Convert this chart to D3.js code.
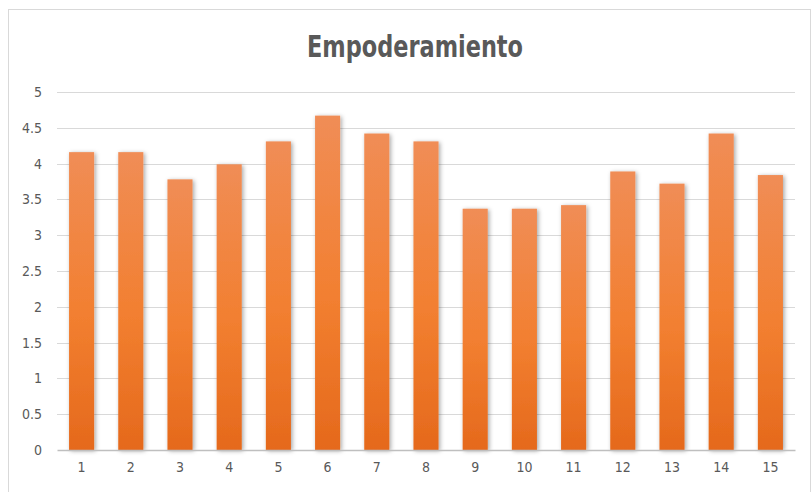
<!DOCTYPE html>
<html>
<head>
<meta charset="utf-8">
<script src="https://cdn.jsdelivr.net/npm/d3@7"></script>
<style>
  body { margin: 0; background: #fff; }
  text { font-family: "DejaVu Sans Condensed", "Liberation Sans Narrow", sans-serif; fill: #595959; }
</style>
</head>
<body>
<div id="graph"></div>
<script>
// Chart data
var categories = ['1','2','3','4','5','6','7','8','9','10','11','12','13','14','15'];
var values = [4.16, 4.16, 3.78, 3.99, 4.31, 4.67, 4.42, 4.31, 3.37, 3.37, 3.42, 3.89, 3.72, 4.42, 3.84];
var yTicks = [0, 0.5, 1, 1.5, 2, 2.5, 3, 3.5, 4, 4.5, 5];
var title = 'Empoderamiento';

// Dimensions
var W = 811, H = 492;
var margin = {top: 92, right: 16, bottom: 42, left: 57},
    width = W - margin.left - margin.right,
    height = H - margin.top - margin.bottom;

var svg = d3.select('#graph')
    .append('svg')
    .attr('width', W)
    .attr('height', H);

// Gradient and shadow
var defs = svg.append('defs');
var grad = defs.append('linearGradient')
    .attr('id', 'barGrad')
    .attr('x1', 0).attr('y1', 0).attr('x2', 0).attr('y2', 1);
grad.append('stop').attr('offset', '0%').attr('stop-color', '#f08d56');
grad.append('stop').attr('offset', '55%').attr('stop-color', '#f27f30');
grad.append('stop').attr('offset', '100%').attr('stop-color', '#e5691c');

var shadow = defs.append('filter')
    .attr('id', 'shadow')
    .attr('x', '-30%').attr('y', '-10%').attr('width', '160%').attr('height', '120%');
shadow.append('feDropShadow')
    .attr('dx', 1.5).attr('dy', 1)
    .attr('stdDeviation', 2)
    .attr('flood-color', '#000')
    .attr('flood-opacity', 0.35);

// Chart border
svg.append('rect')
    .attr('x', 8.5).attr('y', 9.5)
    .attr('width', W - 9).attr('height', H - 9)
    .attr('fill', 'none')
    .attr('stroke', '#d9d9d9');

// Title (narrow face, squeezed to the reference width)
svg.append('text')
    .attr('x', 415)
    .attr('y', 57)
    .attr('text-anchor', 'middle')
    .attr('textLength', 216)
    .attr('lengthAdjust', 'spacingAndGlyphs')
    .style('font-size', '30px')
    .style('font-weight', 'bold')
    .text(title);

var chart = svg.append('g')
    .attr('transform', 'translate(' + margin.left + ',' + margin.top + ')');

// Scales
var x = d3.scaleBand().domain(categories).range([0, width]).paddingInner(0.49).paddingOuter(0.245);
var y = d3.scaleLinear().domain([0, 5]).range([height, 0]);

// Gridlines
chart.append('g')
    .selectAll('line')
    .data(yTicks.filter(function(d) { return d > 0; }))
    .enter()
    .append('line')
        .attr('x1', 0).attr('x2', width)
        .attr('y1', function(d) { return Math.round(y(d)) + 0.5; })
        .attr('y2', function(d) { return Math.round(y(d)) + 0.5; })
        .attr('stroke', '#d9d9d9')
        .attr('stroke-width', 1);

// Bars
chart.append('g')
    .selectAll('rect')
    .data(values)
    .enter()
    .append('rect')
        .attr('x', function(d, i) { return x(categories[i]); })
        .attr('y', function(d) { return y(d); })
        .attr('width', x.bandwidth())
        .attr('height', function(d) { return height - y(d); })
        .attr('fill', 'url(#barGrad)')
        .attr('filter', 'url(#shadow)');

// X axis
var xAxis = d3.axisBottom(x).tickSize(0).tickPadding(12);
var xg = chart.append('g')
    .attr('transform', 'translate(0,' + height + ')')
    .call(xAxis);
xg.select('.domain').attr('stroke', '#bfbfbf').attr('stroke-width', 1.5);
xg.selectAll('text').style('font-size', '14px');

// Y axis
var yAxis = d3.axisLeft(y).tickValues(yTicks).tickSize(0).tickPadding(15)
    .tickFormat(function(d) { return String(d); });
var yg = chart.append('g').call(yAxis);
yg.select('.domain').remove();
yg.selectAll('text').style('font-size', '14px');
</script>
</body>
</html>
